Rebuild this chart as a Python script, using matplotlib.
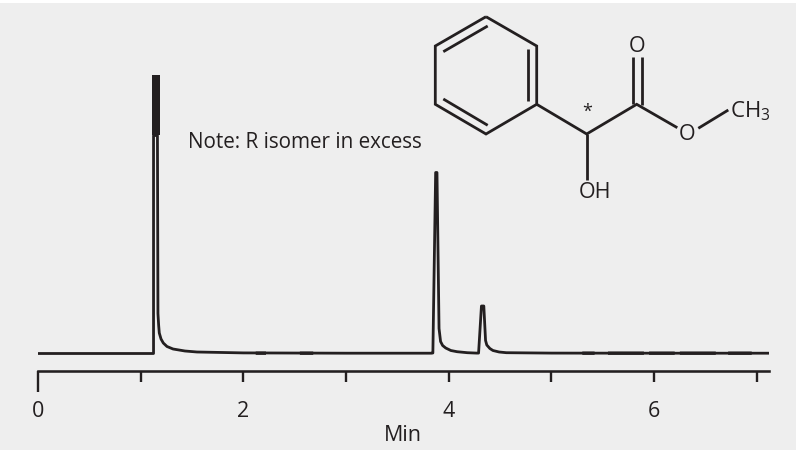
import matplotlib
matplotlib.use("Agg")
import matplotlib.pyplot as plt
from matplotlib.patches import Rectangle

plt.rcParams['font.family'] = ['Open Sans', 'DejaVu Sans']
INK = '#231f20'
BG = '#eeeeee'

# chromatogram, minutes vs detector signal (signal in arbitrary units)
time_min = [0.00, 1.10, 1.125, 1.125, 1.163, 1.168, 1.175, 1.181, 1.198, 1.22, 1.256, 1.315, 1.431, 1.548,
            2.0, 3.0, 3.83,
            3.845, 3.872, 3.885, 3.905, 3.92, 3.94, 3.97, 4.02, 4.08, 4.18, 4.27,
            4.29, 4.318, 4.341, 4.358, 4.37, 4.40, 4.43, 4.49, 4.56, 5.0, 6.0, 7.12]
signal = [0.0, 0.0, 0.0, 218.0, 218.0, 40.0, 28.0, 20.5, 14.5, 10.5, 7.0, 4.5, 2.5, 1.5,
          0.6, 0.3, 0.3,
          0.5, 181.0, 181.0, 25.0, 12.0, 8.0, 5.5, 3.0, 1.8, 0.8, 0.4,
          0.4, 47.5, 47.5, 13.0, 8.5, 5.0, 3.0, 1.5, 0.8, 0.4, 0.3, 0.3]

# saturated solvent plateau
plateau_time = [1.112, 1.185]
plateau_low = 218.0
plateau_high = 278.5

# stretches where baseline noise makes the trace look thicker (minutes)
noise_spans = [(2.12, 2.22), (2.55, 2.68), (5.3, 5.42), (5.55, 5.9),
               (5.95, 6.2), (6.25, 6.6), (6.72, 6.95)]

tick_values = [0, 1, 2, 3, 4, 5, 6, 7]
tick_labels = ['0', '', '2', '', '4', '', '6', '']
x_label = 'Min'
note = 'Note: R isomer in excess'

W, H = 796, 450
fig = plt.figure(figsize=(W / 100, H / 100), dpi=100, facecolor=BG)
fig.add_artist(Rectangle((0, 1 - 3 / H), 1, 3 / H, transform=fig.transFigure, color='white', lw=0))

ax = fig.add_axes([38 / W, 1 - 371 / H, (769 - 38) / W, (371 - 3) / H])
ax.set_facecolor('none')
ax.set_xlim(0, 7.118)
ax.set_ylim(-17.5, 350.5)
ax.plot(time_min, signal, color=INK, lw=2.0, solid_joinstyle='round', solid_capstyle='round', snap=False)
for a, b in noise_spans:
    ax.plot([a, b], [0.3, 0.3], color=INK, lw=2.4, solid_capstyle='butt', snap=False)
ax.fill_between(plateau_time, plateau_low, plateau_high, color=INK, lw=0)

for s in ['top', 'left', 'right']:
    ax.spines[s].set_visible(False)
ax.spines['bottom'].set_linewidth(1.85)
ax.spines['bottom'].set_color(INK)
ax.set_yticks([])
ax.set_xticks(tick_values, tick_labels)
ax.tick_params(axis='x', length=8, width=1.7, color=INK, labelcolor=INK, labelsize=15.5, pad=13.5)
ax.xaxis.get_major_ticks()[0].tick1line.set_markersize(15)
ax.set_xlabel(x_label, fontsize=15.5, color=INK, labelpad=2)
ax.xaxis.get_label().set_x((403 - 38) / (769 - 38))

# overlay in pixel coordinates for the structure drawing and the note
ov = fig.add_axes([0, 0, 1, 1])
ov.set_xlim(0, W)
ov.set_ylim(H, 0)
ov.axis('off')

bonds = [
    [(486, 16.7), (536.7, 46), (536.7, 104.3), (486, 134), (435.3, 104.3), (435.3, 46), (486, 16.7)],
    [(443.3, 51.7), (487.7, 26)],
    [(528.3, 49.3), (528.3, 101.3)],
    [(443.3, 99), (487.7, 125.3)],
    [(536.7, 104.3), (586.7, 134), (636.7, 104.3), (677.3, 127.7)],
    [(586.7, 134), (586.7, 180)],
    [(632.7, 57.3), (632.7, 104)],
    [(641.7, 57.3), (641.7, 105)],
    [(698.3, 128.3), (728.3, 110)],
]
for b in bonds:
    ov.plot([p[0] for p in b], [p[1] for p in b], color=INK, lw=2.0,
            solid_joinstyle='miter', solid_capstyle='butt')

label_kw = dict(color=INK, fontsize=15.5, va='center', ha='center')
ov.text(636.7, 47, 'O', **label_kw)
ov.text(686.7, 135, 'O', **label_kw)
ov.text(594.5, 193, 'OH', **label_kw)
ov.text(750.5, 111, r'CH$_{\mathregular{3}}$', color=INK, fontsize=16, va='center', ha='center')
ov.text(587.3, 112, '*', color=INK, fontsize=13, va='center', ha='center')
ov.text(188, 143, note, color=INK, fontsize=14.9, va='center', ha='left')

fig.savefig('out.png', dpi=100, facecolor=BG)
